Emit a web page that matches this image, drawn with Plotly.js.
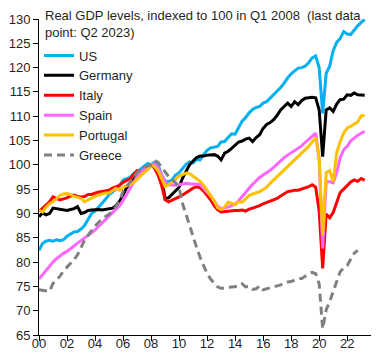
<!DOCTYPE html>
<html>
<head>
<meta charset="utf-8">
<script src="https://cdn.plot.ly/plotly-3.0.1.min.js"></script>
<style>html,body{margin:0;padding:0;background:#fff;}#chart{width:385px;height:360px;}</style>
</head>
<body>
<div id="chart"></div>
<script>
// Quarterly observations, 2000 Q1 .. 2023 Q2 (index, Q1 2008 = 100)
var startYear = 2000;
var tickYears = [2000, 2002, 2004, 2006, 2008, 2010, 2012, 2014, 2016, 2018, 2020, 2022];
var tickLabels = ['00', '02', '04', '06', '08', '10', '12', '14', '16', '18', '20', '22'];
var seriesNames = ['US', 'Germany', 'Italy', 'Spain', 'Portugal', 'Greece'];

var us = [
  82.4, 83.8, 84.3, 84.5,  84.3, 84.6, 84.4, 84.6,  85.3, 85.8, 86.2, 86.3,
  86.8, 87.5, 88.9, 90.0,  90.5, 91.2, 92.1, 92.9,  93.9, 94.4, 95.1, 95.7,
  96.9, 97.2, 97.4, 98.2,  98.5, 99.1, 99.7, 100.3, 100.0, 100.5, 100.0, 97.9,
  96.7, 96.5, 96.9, 97.9,  98.4, 99.3, 100.1, 100.6, 100.4, 101.1, 101.0, 102.1,
  103.0, 103.5, 103.6, 103.8, 104.7, 104.8, 105.6, 106.4, 106.3, 107.7, 109.0, 109.7,
  110.7, 111.4, 111.8, 112.0, 112.7, 113.0, 113.7, 114.5, 115.1, 115.9, 116.8, 117.9,
  118.7, 119.4, 119.9, 120.0, 120.3, 121.0, 122.0, 122.4, 120.0, 110.6, 118.8, 120.3,
  123.5, 125.2, 126.0, 127.4, 126.9, 126.8, 127.8, 128.6, 129.3, 129.9
];
var germany = [
  89.3, 90.1, 89.7, 90.0,  91.1, 91.0, 90.9, 90.7,  90.6, 90.8, 91.0, 91.4,
  90.0, 90.2, 90.6, 90.7,  90.8, 90.8, 90.7, 90.8,  91.0, 91.1, 91.6, 92.5,
  93.8, 95.3, 96.2, 97.0,  97.8, 98.5, 99.1, 99.5,  100.0, 99.6, 99.2, 97.4,
  93.1, 93.2, 93.9, 94.6,  95.4, 97.3, 98.7, 100.0, 100.8, 101.5, 101.8, 101.8,
  102.0, 102.0, 102.1, 101.8, 101.0, 102.4, 102.8, 103.4, 104.0, 104.7, 104.9, 105.3,
  105.5, 104.8, 105.6, 106.2, 107.5, 108.3, 108.7, 109.3, 110.2, 111.3, 112.0, 112.7,
  112.0, 113.0, 112.4, 113.2, 113.7, 113.8, 113.9, 113.8, 111.3, 101.7, 111.3, 111.7,
  111.0, 112.5, 113.4, 113.5, 114.4, 114.3, 114.8, 114.4, 114.3, 114.3
];
var italy = [
  90.4, 91.1, 91.8, 92.4,  93.4, 93.1, 92.8, 93.0,  93.2, 93.6, 93.8, 93.5,
  93.4, 93.5, 93.9, 93.9,  94.2, 94.4, 94.5, 94.6,  94.8, 95.2, 95.5, 95.8,
  96.4, 96.8, 97.2, 98.0,  98.8, 98.6, 98.9, 99.0,  100.0, 99.3, 97.9, 95.8,
  92.8, 92.4, 92.7, 93.0,  93.4, 93.8, 94.3, 94.8,  95.2, 95.5, 95.3, 94.6,
  93.8, 92.8, 91.6, 90.8,  90.3, 90.4, 90.5, 90.6,  90.6, 90.6, 90.7, 90.5,
  90.9, 91.1, 91.3, 91.6,  92.0, 92.3, 92.5, 92.8,  93.1, 93.6, 94.1, 94.5,
  94.6, 94.8, 94.8, 95.0,  95.3, 95.5, 95.9, 95.4,  90.5, 78.7, 89.9, 89.1,
  90.2, 92.5, 94.3, 95.0,  95.8, 96.5, 96.9, 96.6,  97.2, 96.8
];
var spain = [
  76.5, 77.4, 78.3, 79.2,  80.0, 80.7, 81.3, 81.8,  82.2, 82.7, 83.3, 83.9,
  84.4, 84.9, 85.5, 86.0,  86.6, 87.3, 88.0, 88.7,  89.3, 90.0, 90.8, 91.6,
  92.7, 94.0, 95.3, 96.5,  97.6, 98.5, 99.2, 99.7,  100.0, 100.2, 99.5, 98.0,
  96.5, 95.9, 95.8, 95.8,  95.9, 96.1, 96.2, 96.1,  96.1, 96.0, 95.9, 95.2,
  94.5, 93.6, 92.6, 91.5,  91.0, 91.1, 91.3, 91.6,  91.9, 92.6, 93.5, 94.5,
  95.2, 96.0, 96.8, 97.4,  97.9, 98.5, 98.9, 99.5,  100.2, 100.8, 101.5, 102.0,
  102.5, 102.9, 103.4, 103.9, 104.6, 105.2, 105.9, 106.5, 101.0, 82.8, 96.5, 96.5,
  96.3, 98.4, 101.5, 103.1, 103.8, 104.9, 105.5, 106.1, 106.5, 106.9
];
var portugal = [
  90.7, 90.3, 91.3, 92.0,  92.4, 93.0, 93.7, 94.0,  94.1, 93.9, 93.5, 93.3,
  93.1, 92.4, 92.8, 93.2,  93.5, 93.8, 94.0, 94.2,  94.2, 94.8, 95.2, 94.8,
  95.4, 95.7, 96.0, 96.3,  97.0, 97.8, 98.4, 99.0,  100.0, 99.6, 98.8, 97.2,
  95.5, 95.9, 96.4, 97.0,  97.7, 98.0, 98.3, 98.2,  97.7, 97.2, 96.6, 95.8,
  94.8, 93.8, 92.6, 91.2,  90.8, 91.3, 92.3, 92.1,  91.8, 92.4, 92.3, 93.0,
  93.7, 94.0, 94.2, 94.5,  94.9, 95.4, 96.2, 96.9,  97.6, 98.3, 99.0, 99.6,
  100.4, 101.1, 101.8, 102.3, 103.1, 103.8, 104.7, 105.6, 101.6, 85.5, 98.4, 98.8,
  96.5, 102.5, 104.8, 106.5, 107.6, 107.9, 108.4, 108.8, 110.1, 110.1
];
var greece = [
  74.3, 74.2, 74.1, 74.0,  75.6, 76.4, 77.1, 78.2,  79.0, 79.6, 80.5, 81.5,
  83.0, 84.5, 85.5, 86.5,  87.4, 88.2, 88.9, 89.4,  89.8, 90.6, 91.4, 92.5,
  94.6, 95.5, 96.5, 97.6,  98.4, 99.0, 99.4, 99.8,  100.0, 100.9, 100.5, 99.6,
  98.6, 97.6, 97.0, 96.3,  95.3, 92.0, 89.8, 87.4,  85.0, 83.0, 81.0, 79.1,
  77.6, 76.5, 75.6, 74.9,  74.6, 74.6, 74.8, 74.9,  74.9, 75.0, 75.5, 74.9,
  75.0, 74.4, 74.5, 75.1,  74.3, 74.5, 74.7, 74.8,  75.0, 75.3, 75.6, 75.9,
  76.0, 76.3, 76.6, 76.6,  77.2, 77.6, 77.9, 77.6,  75.5, 66.3, 70.2, 71.8,
  74.0, 76.0, 78.0, 78.8,  79.3, 80.6, 81.8, 82.4,  null, null
];

// x position of each quarter (decimal year)
var quarterX = [];
for (var i = 0; i < us.length; i++) { quarterX.push(startYear + i / 4); }

var FONT = 'Liberation Sans, Arial, sans-serif';
var TXT = '#1f1f1f';
var seriesData = [us, germany, italy, spain, portugal, greece];
var colors = ['#00B0F0', '#000000', '#FF0000', '#FF66FF', '#FFC000', '#808080'];

var traces = seriesData.map(function (vals, k) {
  return {
    type: 'scatter', mode: 'lines', name: seriesNames[k],
    x: quarterX, y: vals,
    line: {color: colors[k], width: 3, dash: k === 5 ? '8px,5px' : 'solid'},
    connectgaps: false, hoverinfo: 'x+y+name'
  };
});

var layout = {
  width: 385, height: 360,
  margin: {l: 39, r: 14, t: 19, b: 25, pad: 0},
  paper_bgcolor: '#ffffff', plot_bgcolor: '#ffffff',
  font: {family: FONT, size: 13, color: TXT},
  title: {
    text: 'Real GDP levels, indexed to 100 in Q1 2008&nbsp; (last data<br>point: Q2 2023)',
    font: {family: FONT, size: 13, color: TXT},
    x: 45 / 385, xref: 'container', xanchor: 'left',
    y: 0.945, yref: 'container', yanchor: 'top'
  },
  xaxis: {
    range: [2000, 2023.7], tickmode: 'array', tickvals: tickYears, ticktext: tickLabels,
    ticks: 'outside', ticklen: 5, tickwidth: 1, tickcolor: '#000',
    ticklabelstandoff: -9,
    showline: true, linecolor: '#000', linewidth: 1,
    showgrid: false, zeroline: false,
    tickfont: {family: FONT, size: 13, color: TXT}
  },
  yaxis: {
    range: [65, 130], tick0: 65, dtick: 5,
    ticks: 'outside', ticklen: 5, tickwidth: 1, tickcolor: '#000',
    showline: true, linecolor: '#000', linewidth: 1,
    showgrid: false, zeroline: false,
    tickfont: {family: FONT, size: 13, color: TXT}
  },
  legend: {
    x: 0.0, xanchor: 'left', y: 0.932, yanchor: 'top',
    bgcolor: 'rgba(255,255,255,0)', borderwidth: 0,
    itemwidth: 30, tracegroupgap: 0,
    font: {family: FONT, size: 13, color: TXT}
  },
  showlegend: true
};

Plotly.newPlot('chart', traces, layout, {displayModeBar: false, staticPlot: true});
</script>
</body>
</html>
